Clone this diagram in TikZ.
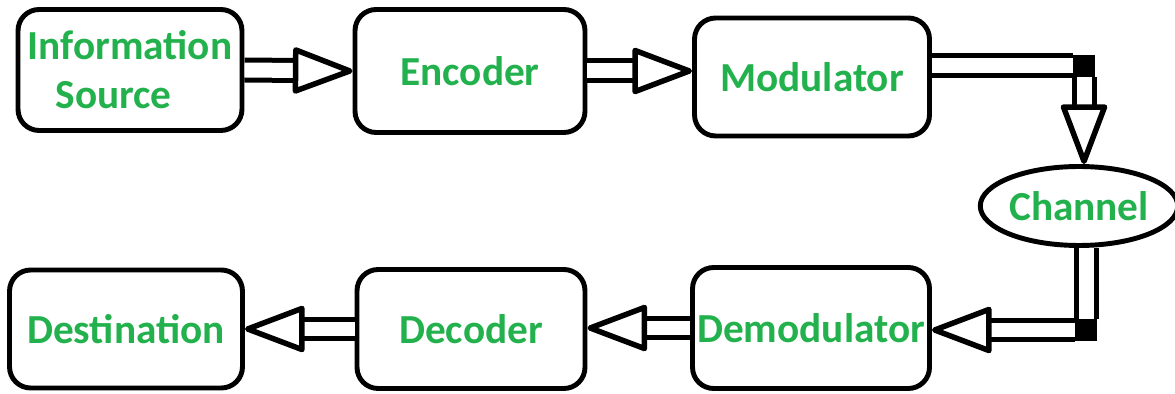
\documentclass[tikz,border=0pt]{standalone}
\usepackage{fontspec}
\setmainfont{Carlito}
\usetikzlibrary{arrows.meta, shapes.geometric}
\definecolor{labelgreen}{RGB}{34,177,76}
\tikzset{
  block/.style={draw, line width=2.8pt, rounded corners=12pt, text=labelgreen,
    font=\bfseries\fontsize{23.5}{28}\selectfont, align=center, inner sep=0pt},
  pipe/.style={draw, double=white, double distance=0.3cm, line width=0.1cm},
  pipe arrow/.style={pipe, -{Triangle[open, round, length=1.3cm, width=0.95cm, line width'=0.11cm]}},
  joint/.style={fill=black, minimum size=0.44cm, inner sep=0pt},
}

\begin{document}
\begin{tikzpicture}[x=0.02cm, y=-0.02cm]
  \useasboundingbox (0,0) rectangle (1175,394);

  % top row
  \node[block, minimum width=4.48cm, minimum height=2.42cm] (src) at (130,70) {Information\\Source\hspace*{0.8em}};
  \node[block, minimum width=4.6cm, minimum height=2.46cm] (enc) at (470,71) {Encoder};
  \node[block, minimum width=4.7cm, minimum height=2.36cm] (mod) at (812,77) {Modulator};

  % channel
  \node[block, ellipse, minimum width=3.76cm, minimum height=1.58cm] (chan) at (1079,206) {Channel};

  % bottom row
  \node[block, minimum width=4.74cm, minimum height=2.42cm] (demod) at (811,328) {Demodulator};
  \node[block, minimum width=4.56cm, minimum height=2.38cm] (dec) at (471,329) {Decoder};
  \node[block, minimum width=4.66cm, minimum height=2.36cm] (dest) at (126,329) {Destination};

  % corners of the channel link
  \node[joint] (j1) at (1084,66) {};
  \node[joint] (j2) at (1086,330) {};

  % links
  \draw[pipe arrow] (src.east) -- (enc.west);
  \draw[pipe arrow] (enc.east) -- (enc.east -| mod.west);
  \draw[pipe] (mod.east |- j1) -- (j1.west);
  \draw[pipe arrow] (j1.south) -- (j1 |- chan.north);
  \draw[pipe] (chan.south -| j2) -- (j2.north);
  \draw[pipe arrow] (j2.west) -- (j2 -| demod.east);
  \draw[pipe arrow] (demod.west) -- (demod.west -| dec.east);
  \draw[pipe arrow] (dec.west) -- (dest.east);
\end{tikzpicture}
\end{document}
